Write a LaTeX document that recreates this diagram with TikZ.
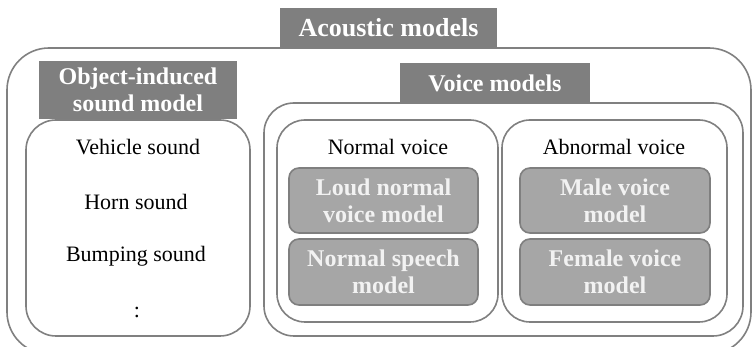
\documentclass[tikz,border=0pt]{standalone}
\usepackage{fontspec}
\setmainfont{Liberation Serif}
\definecolor{labelgray}{HTML}{7F7F7F}
\definecolor{boxgray}{HTML}{A6A6A6}
\definecolor{linegray}{HTML}{808080}
\begin{document}
\begin{tikzpicture}[x=1pt,y=-1pt,
  container/.style={draw=linegray, line width=1.6pt, fill=white, rectangle, inner sep=0pt},
  tag/.style={fill=labelgray, text=white, inner sep=0pt, align=center,
    font=\fontsize{24}{27}\selectfont\bfseries},
  model/.style={fill=boxgray, draw=labelgray, line width=1.6pt, rounded corners=10pt,
    text=white!95!black, inner sep=0pt, align=center, minimum width=189pt,
    font=\fontsize{24}{27}\selectfont\bfseries},
  item/.style={anchor=base, inner sep=0pt, font=\fontsize{22}{26}\selectfont}]
\useasboundingbox (0,0) rectangle (753,347);
\clip (0,0) rectangle (753,347);
% outer container
\node[container, rounded corners=42pt, minimum width=744pt, minimum height=306pt] (outer) at (379,201) {};
\node[tag, minimum width=217pt, minimum height=40pt, font=\fontsize{26}{30}\selectfont\bfseries] (acoustic) at (388.5,28) {Acoustic models};
% object-induced sound model
\node[container, rounded corners=30pt, minimum width=224pt, minimum height=216pt] (objbox) at (138,228) {};
\node[tag, minimum width=198pt, minimum height=58pt] (objtag) at (138,90) {Object-induced\\sound model};
\node[item] (vehicle) at (138,155) {Vehicle sound};
\node[item] (horn) at (136,210) {Horn sound};
\node[item] (bump) at (136,262) {Bumping sound};
\node[item] (dots) at (137,318) {:};
% voice models
\node[container, rounded corners=30pt, minimum width=479pt, minimum height=233pt] (voicebox) at (503.5,219.5) {};
\node[tag, minimum width=190pt, minimum height=40pt] (voicetag) at (495,83) {Voice models};
\node[container, rounded corners=28pt, minimum width=221pt, minimum height=202pt] (normalbox) at (387.5,221) {};
\node[container, rounded corners=28pt, minimum width=225pt, minimum height=202pt] (abnormalbox) at (614.5,221) {};
\node[item] (normaltitle) at (388,155) {Normal voice};
\node[item] (abnormaltitle) at (614,155) {Abnormal voice};
\node[model, minimum height=65pt] (loud) at (383.5,200.5) {Loud normal\\voice model};
\node[model, minimum height=66pt] (speech) at (383.5,272) {Normal speech\\model};
\node[model, minimum width=190pt, minimum height=65pt] (male) at (615,200.5) {Male voice\\model};
\node[model, minimum width=190pt, minimum height=66pt] (female) at (615,272) {Female voice\\model};
\end{tikzpicture}
\end{document}
